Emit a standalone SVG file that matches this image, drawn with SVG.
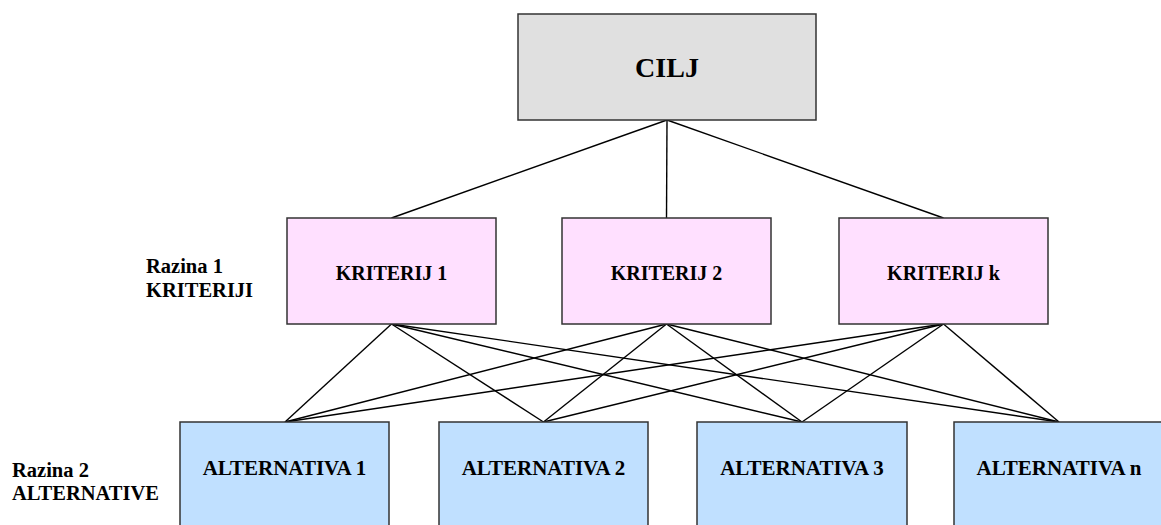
<svg xmlns="http://www.w3.org/2000/svg" width="1161" height="525" viewBox="0 0 1161 525">
<style>
.box{stroke:#333;stroke-width:1.5}
.goal{fill:#e0e0e0}
.crit{fill:#ffe0ff}
.alt{fill:#c0e0ff}
text{font-family:"Liberation Serif","Times New Roman",serif;font-weight:bold;fill:#000}
.c{text-anchor:middle;font-size:20px}
.a{text-anchor:middle;font-size:21px}
.lbl{font-size:20.5px}
.con line{stroke:#000;stroke-width:1.4}
</style>
<rect width="1161" height="525" fill="#fff"/>
<g class="con" id="connectors">
<line x1="667" y1="120" x2="391.5" y2="218"/>
<line x1="667" y1="120" x2="666.5" y2="218"/>
<line x1="667" y1="120" x2="943.5" y2="218"/>
<line x1="391.5" y1="324" x2="285" y2="422"/>
<line x1="391.5" y1="324" x2="543.5" y2="422"/>
<line x1="391.5" y1="324" x2="802" y2="422"/>
<line x1="391.5" y1="324" x2="1059" y2="422"/>
<line x1="666.5" y1="324" x2="285" y2="422"/>
<line x1="666.5" y1="324" x2="543.5" y2="422"/>
<line x1="666.5" y1="324" x2="802" y2="422"/>
<line x1="666.5" y1="324" x2="1059" y2="422"/>
<line x1="943.5" y1="324" x2="285" y2="422"/>
<line x1="943.5" y1="324" x2="543.5" y2="422"/>
<line x1="943.5" y1="324" x2="802" y2="422"/>
<line x1="943.5" y1="324" x2="1059" y2="422"/>
</g>
<g id="cilj"><rect class="box goal" x="518" y="14" width="298" height="106"/><text class="c" x="667" y="77" style="font-size:28px">CILJ</text></g>
<g id="kriterij1"><rect class="box crit" x="287" y="218" width="209" height="106"/><text class="c" x="391.5" y="280">KRITERIJ 1</text></g>
<g id="kriterij2"><rect class="box crit" x="562" y="218" width="209" height="106"/><text class="c" x="666.5" y="280">KRITERIJ 2</text></g>
<g id="kriterijk"><rect class="box crit" x="839" y="218" width="209" height="106"/><text class="c" x="943.5" y="280">KRITERIJ k</text></g>
<g id="alt1"><rect class="box alt" x="180" y="422" width="209" height="120"/><text class="a" x="284.5" y="475">ALTERNATIVA 1</text></g>
<g id="alt2"><rect class="box alt" x="439" y="422" width="209" height="120"/><text class="a" x="543.5" y="475">ALTERNATIVA 2</text></g>
<g id="alt3"><rect class="box alt" x="697" y="422" width="210" height="120"/><text class="a" x="802" y="475">ALTERNATIVA 3</text></g>
<g id="altn"><rect class="box alt" x="954" y="422" width="210" height="120"/><text class="a" x="1059" y="475">ALTERNATIVA n</text></g>
<g id="razina1"><text class="lbl" x="146" y="273">Razina 1</text><text class="lbl" x="146" y="297">KRITERIJI</text></g>
<g id="razina2"><text class="lbl" x="12" y="477">Razina 2</text><text class="lbl" x="12" y="500">ALTERNATIVE</text></g>
</svg>
